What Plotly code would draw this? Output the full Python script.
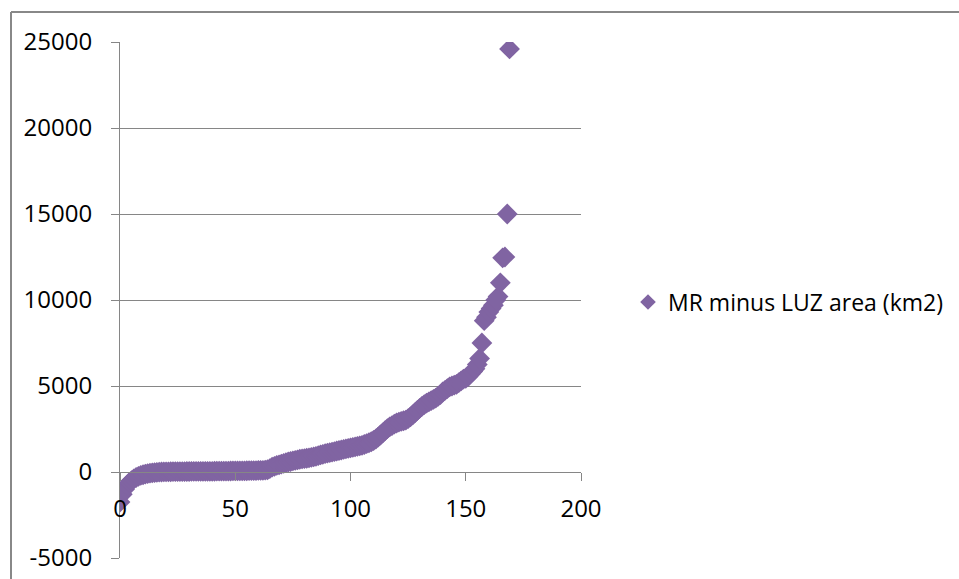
import plotly.graph_objects as go

series_name = "MR minus LUZ area (km2)"

# sorted differences (km2), indexed 0..169
values = [
    -1750, -1300, -1000, -780, -620, -500, -400, -320, -250, -200,
    -160, -120, -90, -70, -50, -35, -20, -10, 0, 5,
    10, 12, 14, 16, 18, 20, 22, 24, 26, 28,
    30, 31, 32, 33, 34, 35, 36, 37, 38, 40,
    42, 44, 46, 48, 50, 52, 54, 56, 58, 60,
    62, 64, 66, 68, 70, 72, 75, 78, 80, 85,
    90, 95, 100, 110, 130, 200, 280, 330, 380, 420,
    460, 500, 540, 580, 610, 650, 680, 710, 740, 760,
    780, 800, 820, 850, 880, 910, 950, 990, 1030, 1070,
    1100, 1130, 1160, 1190, 1220, 1250, 1280, 1310, 1340, 1370,
    1400, 1430, 1460, 1490, 1520, 1550, 1600, 1650, 1700, 1760,
    1830, 1920, 2030, 2150, 2280, 2400, 2520, 2620, 2700, 2780,
    2850, 2900, 2940, 2980, 3020, 3100, 3200, 3320, 3450, 3580,
    3700, 3820, 3920, 4000, 4080, 4150, 4220, 4300, 4400, 4500,
    4650, 4750, 4850, 4950, 5000, 5050, 5100, 5200, 5300, 5400,
    5450, 5550, 5700, 5850, 6000, 6250, 6600, 7500, 8800, 9000,
    9300, 9500, 9700, 10000, 10200, 11000, 12450, 12500, 15000, 24600,
]
index = list(range(len(values)))

x_ticks = [0, 50, 100, 150, 200]
x_tick_text = ["0", "50", "100", "150", "200"]
y_ticks = [-5000, 0, 5000, 10000, 15000, 20000, 25000]
y_tick_text = ["-5000", "0", "5000", "10000", "15000", "20000", "25000"]

W, H = 959, 579
L, R, T, B = 120, 581, 42, 558

purple = "#8064A2"
gray = "#868686"
font = dict(family="Open Sans, sans-serif", size=24, color="#000000")
legend_font = dict(family="Open Sans, sans-serif", size=23, color="#000000")

fig = go.Figure()
fig.add_trace(go.Scatter(
    x=index, y=values, mode="markers", name=series_name,
    marker=dict(symbol="diamond", size=16, color=purple, line=dict(width=0)),
))

fig.update_layout(
    width=W, height=H,
    margin=dict(l=L, r=W - R, t=T, b=H - B, pad=0, autoexpand=False),
    paper_bgcolor="white", plot_bgcolor="white",
    font=font,
    showlegend=True,
    legend=dict(x=(628 - L) / (R - L), y=(B - 302) / (B - T), xanchor="left", yanchor="middle",
                itemsizing="constant", font=legend_font, bgcolor="rgba(0,0,0,0)"),
    xaxis=dict(range=[0, 200], tickvals=x_ticks, ticktext=x_tick_text, showgrid=False, zeroline=False,
               showline=True, linecolor=gray, linewidth=1,
               ticks="outside", ticklen=8, tickcolor=gray, tickwidth=1,
               anchor="free", position=(0 - (-5000)) / 30000,
               ticklabelstandoff=7, tickfont=font, automargin=False),
    yaxis=dict(range=[-5000, 25000], tickvals=y_ticks, ticktext=y_tick_text,
               showgrid=True, gridcolor=gray, gridwidth=1,
               zeroline=False, showline=True, linecolor=gray, linewidth=1,
               ticks="outside", ticklen=8, tickcolor=gray, tickwidth=1,
               ticklabelstandoff=14, tickfont=font, automargin=False),
)

# outer chart-area border (top and left edges visible in the crop)
def px_x(p):
    return (p - L) / (R - L)

def px_y(p):
    return (B - p) / (B - T)

fig.add_shape(type="line", xref="paper", yref="paper", x0=px_x(11), x1=px_x(962),
              y0=px_y(12), y1=px_y(12), line=dict(color="#888888", width=2))
fig.add_shape(type="line", xref="paper", yref="paper", x0=px_x(11), x1=px_x(11),
              y0=px_y(12), y1=px_y(582), line=dict(color="#888888", width=2))

fig.write_html("out.html")
